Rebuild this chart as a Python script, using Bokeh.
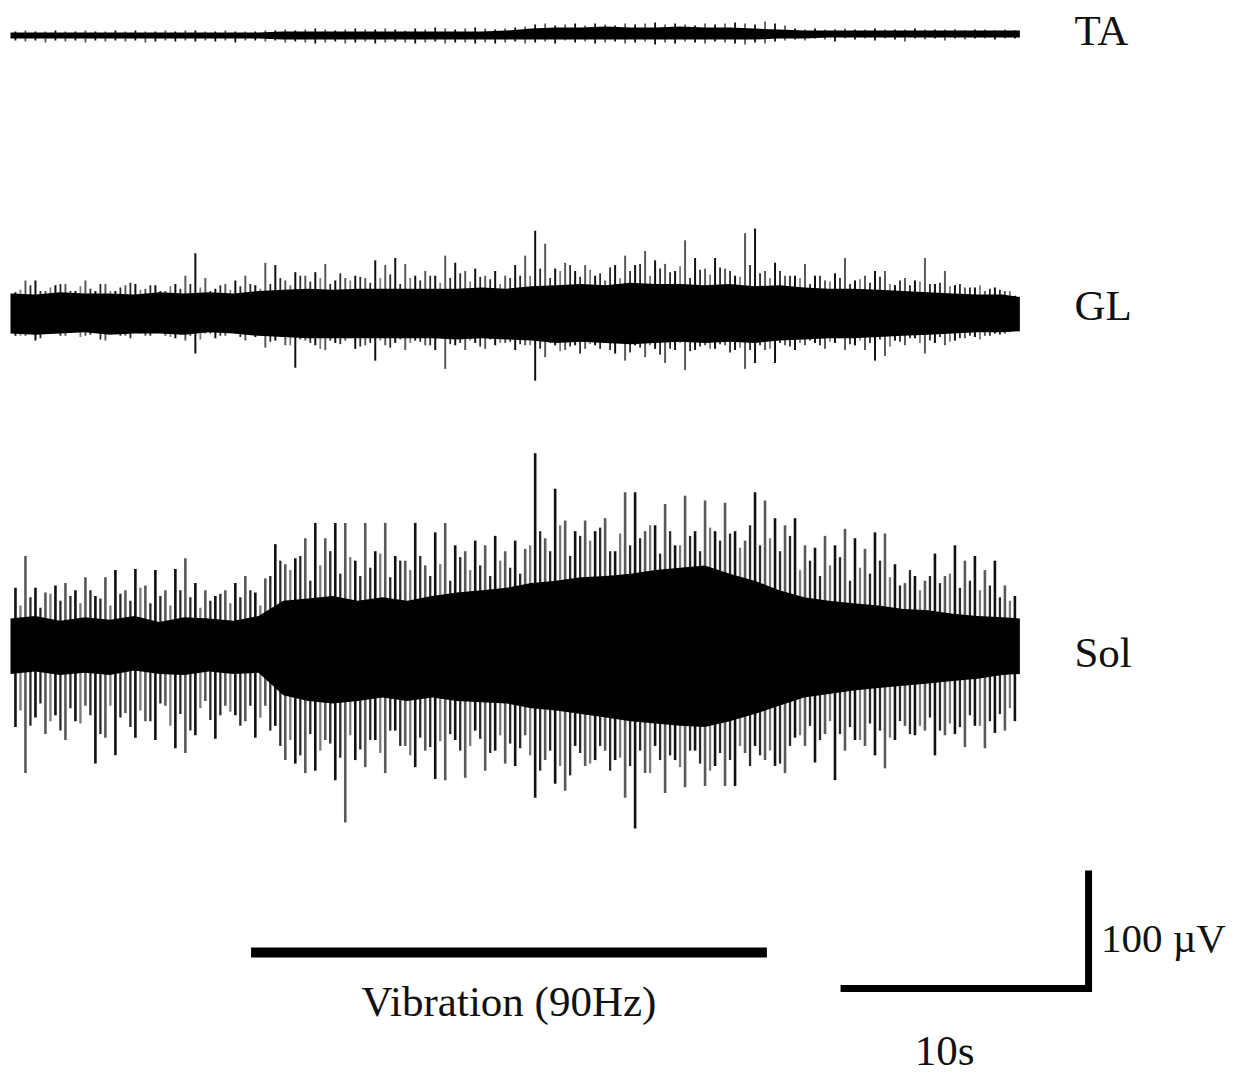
import numpy as np
from bokeh.plotting import figure
from bokeh.models import Range1d
from bokeh.core.properties import value
from bokeh.embed import file_html
from bokeh.resources import INLINE

# ---------------- data (µV, time in s) ----------------
channels = ["TA", "GL", "Sol"]

# envelope of the dense EMG band, sampled every 1 s (last at end of record, 40.7 s)
core_t = list(range(41)) + [40.7]
ta_core_top = [2.5] * 11 + [3.4, 3.4, 3.4, 3.4, 3.4, 3.4, 3.4, 3.4, 3.4, 4.2,
                            5.9, 6.8, 6.8, 7.6, 6.8, 6.8, 7.6, 6.8, 6.8, 5.9,
                            5.1, 4.2, 4.2, 4.2, 4.2, 4.2, 4.2, 4.2, 4.2, 4.2, 4.2]
ta_core_bot = [2.5] * 11 + [3.4] * 20 + [2.5, 2.5, 1.7, 1.7, 1.7, 1.7, 1.7, 1.7, 1.7, 1.7, 1.7]
gl_core_top = [17, 16, 18, 17, 17, 16, 18, 17, 18, 17, 19,
               20, 21, 20, 21, 21, 21, 21, 21, 22, 21, 23, 24, 25, 24, 26, 25, 25, 24, 25, 23,
               24, 22, 21, 21, 20, 19, 18, 17, 16, 16, 14]
gl_core_bot = [17, 18, 17, 16, 18, 17, 17, 18, 16, 17, 19,
               20, 21, 21, 21, 21, 21, 21, 22, 21, 22, 23, 25, 24, 25, 26, 25, 24, 25, 24, 25,
               23, 22, 21, 21, 20, 19, 18, 17, 16, 16, 15]
sol_core_top = [23, 25, 21, 24, 22, 25, 20, 24, 23, 21, 25,
                38, 40, 42, 38, 41, 38, 42, 45, 47, 49, 53, 55, 58, 59, 61, 64, 66, 68, 61, 55,
                47, 41, 38, 36, 34, 31, 30, 27, 25, 24, 23]
sol_core_bot = [24, 22, 25, 23, 25, 21, 24, 25, 22, 24, 23,
                42, 47, 49, 47, 44, 47, 44, 47, 48, 49, 53, 55, 58, 61, 64, 66, 68, 69, 64, 58,
                51, 44, 41, 38, 36, 34, 32, 30, 28, 25, 24]

# largest spike in each 0.4 s window (positive peak, negative peak magnitude)
ta_top = [3.4, 4.2, 3.4, 3.4, 4.2, 3.4, 3.4, 4.2, 3.4, 3.4, 4.2, 3.4, 4.2, 3.4, 3.4, 4.2, 3.4, 4.2, 4.2, 3.4,
          3.4, 4.2, 3.4, 3.4, 3.4, 4.2, 4.2,
          5.1, 4.2, 5.1, 5.9, 5.1, 4.2, 5.1, 5.9, 5.1, 5.1, 5.9, 5.1, 4.2, 5.9, 5.1, 6.8, 5.9, 5.1, 5.9, 6.8,
          5.9, 5.1, 5.9, 6.8,
          7.6, 9.3, 10.2, 8.5, 9.3, 10.2, 8.5, 10.2, 9.3, 8.5, 10.2, 9.3, 10.2, 11.0, 9.3, 10.2, 9.3, 8.5, 10.2, 9.3,
          10.2, 11.0, 10.2, 9.3, 11.9, 10.2, 8.5,
          5.9, 5.1, 5.9, 5.1, 5.1, 5.9, 5.1, 5.1, 5.9, 5.1, 5.1, 5.1, 5.9, 5.1, 5.1, 5.1, 5.1, 4.2, 5.1, 5.1,
          4.2, 5.1, 4.2]
ta_bot = [4.2, 5.1, 4.2, 5.9, 4.2, 5.1, 4.2, 5.9, 4.2, 5.1, 4.2, 5.1, 4.2, 5.9, 5.1, 4.2, 5.1, 4.2, 5.1, 4.2,
          5.1, 4.2, 5.9, 4.2, 4.2, 5.1, 4.2,
          5.9, 5.1, 5.9, 6.8, 5.9, 5.1, 6.8, 5.9, 5.1, 6.8, 5.9, 5.1, 5.9, 6.8, 5.9, 5.1, 6.8, 5.9, 5.9, 6.8,
          5.9, 6.8, 5.9, 5.1,
          6.8, 5.9, 5.1, 6.8, 4.2, 5.9, 5.1, 6.8, 5.9, 5.1, 6.8, 5.9, 5.1, 7.6, 5.9, 6.8, 5.1, 5.9, 6.8, 5.1,
          5.9, 6.8, 7.6, 5.9, 6.8, 5.1, 4.2,
          3.4, 4.2, 2.5, 3.4, 5.1, 2.5, 3.4, 2.5, 4.2, 2.5, 3.4, 5.1, 2.5, 3.4, 2.5, 4.2, 2.5, 3.4, 2.5, 2.5,
          3.4, 2.5, 2.5]
gl_top = [18, 28, 28, 19, 24, 25, 19, 28, 19, 25, 19, 24, 25, 21, 24, 19, 25, 32, 51, 30,
          21, 25, 28, 32, 24, 43, 41, 28, 35, 32, 35, 42, 28, 30, 32, 30, 45, 41, 47, 42,
          32, 36, 32, 49, 43, 36, 38, 32, 36, 32, 41, 49, 70, 59, 38, 43, 36, 41, 32, 28,
          41, 49, 41, 53, 45, 42, 36, 62, 47, 38, 47, 38, 32, 68, 72, 36, 43, 32, 32, 42,
          32, 28, 34, 47, 28, 32, 36, 36, 24, 30, 28, 47, 25, 36, 24, 22, 22, 19, 22, 19, 15]
gl_bot = [19, 19, 23, 17, 16, 19, 14, 19, 16, 23, 17, 19, 14, 19, 16, 19, 21, 23, 34, 17,
          21, 19, 17, 23, 20, 29, 23, 27, 46, 23, 27, 31, 25, 23, 30, 27, 40, 27, 25, 31,
          23, 27, 31, 47, 27, 31, 25, 30, 27, 25, 31, 27, 57, 37, 27, 31, 27, 30, 27, 25,
          34, 40, 27, 37, 30, 42, 31, 48, 31, 27, 30, 27, 31, 47, 42, 31, 42, 27, 31, 27,
          25, 30, 25, 31, 27, 31, 40, 36, 23, 27, 21, 34, 25, 27, 23, 21, 20, 19, 17, 17, 14]
sol_top = [49, 76, 49, 45, 51, 53, 47, 58, 42, 58, 64, 47, 65, 51, 64, 47, 65, 74, 53, 47,
           42, 47, 53, 59, 45, 57, 86, 69, 74, 91, 104, 91, 104, 104, 72, 104, 80, 104, 76, 72,
           104, 68, 96, 104, 85, 80, 89, 85, 93, 80, 89, 82, 163, 91, 133, 106, 97, 106, 97, 108,
           80, 130, 130, 97, 102, 120, 85, 127, 97, 123, 97, 121, 97, 89, 130, 123, 108, 102, 108, 85,
           83, 93, 85, 99, 91, 82, 96, 95, 69, 53, 59, 55, 78, 59, 85, 72, 76, 64, 72, 51, 42]
sol_bot = [69, 108, 61, 75, 59, 80, 64, 51, 100, 78, 93, 57, 78, 64, 80, 51, 87, 91, 76, 47,
           79, 51, 59, 64, 78, 51, 68, 97, 100, 108, 106, 80, 114, 150, 97, 103, 80, 108, 72, 85,
           103, 89, 113, 114, 80, 112, 72, 106, 89, 100, 102, 76, 129, 97, 117, 123, 85, 102, 97, 89,
           97, 129, 155, 108, 85, 125, 97, 120, 89, 119, 102, 119, 119, 91, 85, 97, 102, 108, 78, 85,
           99, 75, 114, 89, 80, 85, 93, 104, 80, 68, 76, 72, 93, 76, 75, 86, 68, 87, 74, 72, 64]

# secondary (in-between) spikes, halfway between the windows above
gl_top2 = [20, 24, 19, 22, 25, 19, 23, 21, 25, 19, 22, 26, 20, 24, 19, 23, 21, 25, 22, 19, 24, 20, 23, 25, 21,
           25, 30, 24, 32, 27, 30, 25, 34, 28, 31, 26, 30, 33, 25, 30, 28, 32, 26, 30, 34, 27, 31, 29, 25, 30, 32,
           32, 38, 30, 36, 41, 31, 37, 34, 39, 30, 36, 42, 32, 38, 35, 40, 30, 37, 33, 39, 36, 31, 41, 34, 30, 36, 32,
           30, 25, 32, 27, 30, 25, 29, 26, 31, 25, 28, 24, 27, 25, 26, 23, 25, 22, 24, 21, 20, 19]
gl_bot2 = [19, 15, 21, 17, 19, 16, 20, 18, 22, 15, 19, 21, 17, 19, 16, 20, 18, 19, 22, 17, 19, 16, 20, 18, 19,
           24, 20, 27, 22, 25, 30, 23, 26, 21, 28, 25, 23, 29, 22, 25, 24, 27, 21, 26, 25, 23, 28, 22, 25, 24, 26,
           27, 30, 25, 32, 28, 34, 26, 30, 31, 25, 33, 29, 27, 35, 30, 25, 32, 28, 30, 26, 33, 29, 31, 27, 30, 25, 28,
           25, 23, 27, 24, 21, 26, 23, 25, 22, 28, 24, 21, 25, 23, 20, 24, 21, 19, 22, 19, 18, 16]
sol_top2 = [34, 41, 32, 44, 38, 42, 36, 47, 40, 34, 44, 38, 49, 36, 42, 34, 47, 41, 32, 38, 44, 36, 41, 47, 34,
            59, 72, 64, 76, 55, 68, 80, 61, 75, 59, 66, 78, 58, 72, 64, 76, 59, 69, 55, 75, 64, 68, 59, 72, 66, 61,
            85, 97, 80, 102, 76, 93, 89, 100, 80, 95, 85, 91, 102, 78, 97, 85, 93, 80, 100, 89, 95, 83, 102, 85, 91, 80, 93,
            64, 72, 59, 68, 75, 55, 66, 61, 72, 58, 51, 64, 47, 59, 53, 61, 49, 55, 47, 51, 41, 38]
sol_bot2 = [55, 68, 49, 64, 72, 53, 66, 59, 75, 51, 61, 69, 55, 64, 49, 68, 58, 72, 53, 63, 59, 56, 68, 51, 61,
            72, 85, 80, 93, 75, 89, 83, 95, 76, 88, 80, 91, 72, 85, 93, 78, 86, 81, 75, 89, 85, 79, 91, 76, 83, 87,
            93, 106, 89, 102, 110, 91, 100, 85, 106, 95, 102, 89, 108, 97, 93, 103, 89, 100, 106, 91, 97, 85, 102, 93, 89, 100, 85,
            76, 68, 80, 64, 75, 69, 80, 66, 72, 78, 64, 75, 68, 61, 72, 66, 69, 59, 68, 64, 58, 53]

vib_on, vib_off = 9.7, 30.5          # s
vib_label = "Vibration (90Hz)"
scale_time, scale_amp = 10, 100       # s, µV
scale_time_label, scale_amp_label = "10s", "100 µV"

# ---------------- layout (data units) ----------------
baselines = {"TA": 883, "GL": 647.5, "Sol": 366}
label_dy = {"TA": 4.3, "GL": 6.7, "Sol": -5.8}
label_x = 42.9
spike_w = {"TA": 1.8, "GL": 2.0, "Sol": 2.6}
spike_w2 = {"GL": 1.8, "Sol": 2.3}
bar_y = 106
scale_x0, scale_y0 = 33.47, 75.4
FONT = value("Liberation Serif")
FSIZE = value("43px")

W, H = 1233, 1077
x0 = -0.4032
p = figure(width=W, height=H, x_range=Range1d(x0, x0 + W / 24.8), y_range=Range1d(0, H / 1.18),
           output_backend="svg", toolbar_location=None, min_border=0,
           x_axis_type=None, y_axis_type=None)
p.grid.visible = False
p.outline_line_color = None
p.background_fill_color = "white"
p.border_fill_color = "white"

data = {
    "TA": (ta_core_top, ta_core_bot, ta_top, ta_bot, None, None),
    "GL": (gl_core_top, gl_core_bot, gl_top, gl_bot, gl_top2, gl_bot2),
    "Sol": (sol_core_top, sol_core_bot, sol_top, sol_bot, sol_top2, sol_bot2),
}
for ch in channels:
    ctop, cbot, top, bot, top2, bot2 = data[ch]
    b = baselines[ch]
    n = len(top)
    st = np.linspace(0.2, 40.5, n)
    if top2 is not None:
        st2 = (st[:-1] + st[1:]) / 2
        cols2 = ["#2a2a2a" if i % 3 else "#7a7a7a" for i in range(len(top2))]
        p.segment(x0=st2, y0=b - np.array(bot2), x1=st2, y1=b + np.array(top2),
                  line_width=spike_w2[ch], line_color=cols2)
    cols = ["#111111" if i % 2 == 0 else "#5a5a5a" for i in range(n)]
    p.segment(x0=st, y0=b - np.array(bot), x1=st, y1=b + np.array(top),
              line_width=spike_w[ch], line_color=cols)
    p.varea(x=core_t, y1=b - np.array(cbot), y2=b + np.array(ctop), fill_color="black")

p.text(x=[label_x] * 3, y=[baselines[c] + label_dy[c] for c in channels], text=channels,
       text_font=FONT, text_font_size=FSIZE, text_baseline="middle", text_align="left",
       text_color="#111111")

# vibration bar
p.segment(x0=[vib_on], y0=[bar_y], x1=[vib_off], y1=[bar_y], line_width=10,
          line_color="black", line_cap="butt")
p.text(x=[(vib_on + vib_off) / 2], y=[bar_y - 42], text=[vib_label], text_font=FONT,
       text_font_size=FSIZE, text_baseline="middle", text_align="center", text_color="#111111")

# scale bar
p.line(x=[scale_x0, scale_x0 + scale_time, scale_x0 + scale_time],
       y=[scale_y0, scale_y0, scale_y0 + scale_amp], line_width=7, line_color="black",
       line_join="miter")
p.text(x=[scale_x0 + scale_time / 2 - 0.8], y=[scale_y0 - 52.5], text=[scale_time_label], text_font=FONT,
       text_font_size=FSIZE, text_baseline="middle", text_align="center", text_color="#111111")
p.text(x=[scale_x0 + scale_time + 0.5], y=[scale_y0 + 43], text=[scale_amp_label], text_font=FONT,
       text_font_size=value("41px"), text_baseline="middle", text_align="left", text_color="#111111")

open("out.html", "w").write(file_html(p, INLINE))
